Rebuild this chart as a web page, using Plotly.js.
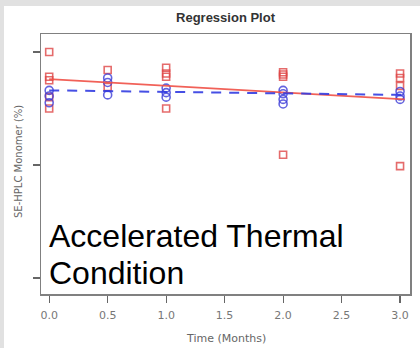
<!DOCTYPE html>
<html>
<head>
<meta charset="utf-8">
<script src="https://cdn.plot.ly/plotly-3.0.1.min.js"></script>
<style>html,body{margin:0;padding:0;background:#e1e1e1;}#chart{width:420px;height:348px;}</style>
</head>
<body>
<div id="chart"></div>
<script>
// Time points (months) and monomer values
const redX = [0,0,0,0,0, 0.5,0.5, 1,1,1,1, 2,2,2,2, 3,3,3,3];
const redY = [99.00,98.78,98.75,98.60,98.50, 98.84,98.69, 98.86,98.81,98.78,98.50, 98.82,98.80,98.78,98.09, 98.81,98.77,98.70,97.99];
const blueX = [0,0,0, 0.5,0.5,0.5, 1,1,1, 2,2,2,2, 3,3,3];
const blueY = [98.66,98.61,98.55, 98.77,98.73,98.62, 98.68,98.64,98.60, 98.66,98.63,98.58,98.54, 98.65,98.61,98.58];
// Regression line endpoints
const fitX = [0, 3.04];
const redFit = [98.76, 98.58];
const blueFit = [98.66, 98.62];
const xTicks = [0, 0.5, 1, 1.5, 2, 2.5, 3];
const xTickText = ['0.0','0.5','1.0','1.5','2.0','2.5','3.0'];
const yTicks = [97, 98, 99];

const traces = [
  {x: redX, y: redY, mode: 'markers', type: 'scatter',
   marker: {symbol: 'square-open', size: 7, color: 'rgba(222,70,70,0.8)', line: {width: 1.6}}},
  {x: blueX, y: blueY, mode: 'markers', type: 'scatter',
   marker: {symbol: 'circle-open', size: 8, color: 'rgba(60,60,215,0.8)', line: {width: 1.6}}},
  {x: fitX, y: redFit, mode: 'lines', type: 'scatter',
   line: {color: 'rgba(240,80,70,0.9)', width: 1.8}},
  {x: fitX, y: blueFit, mode: 'lines', type: 'scatter',
   line: {color: 'rgba(50,60,225,0.9)', width: 2, dash: '10px,8px'}}
];

const small = 'DejaVu Sans, Arial, sans-serif';
const layout = {
  width: 420, height: 348,
  margin: {l: 41, r: 10, t: 34, b: 54},
  paper_bgcolor: '#e1e1e1',
  plot_bgcolor: '#ffffff',
  showlegend: false,
  font: {family: 'Liberation Sans, Arial, sans-serif'},
  title: {text: '<b>Regression Plot</b>', font: {size: 13, color: '#333'},
          x: 0.5, xref: 'paper', y: 1 - 17/348, yref: 'container', yanchor: 'middle'},
  xaxis: {range: [-0.07, 3.085], tickvals: xTicks, ticktext: xTickText,
          showgrid: false, zeroline: false, showline: true, mirror: true,
          linecolor: '#808080', linewidth: 1.5, ticks: 'outside', ticklen: 7,
          tickcolor: '#666', tickwidth: 1.2, ticklabelstandoff: 3,
          tickfont: {size: 11, color: '#777', family: small}},
  yaxis: {range: [96.858, 99.159], tickvals: yTicks, showticklabels: false,
          showgrid: false, zeroline: false, showline: true, mirror: true,
          linecolor: '#808080', linewidth: 1.5, ticks: 'outside', ticklen: 7,
          tickcolor: '#666', tickwidth: 1.2},
  shapes: [
    {type: 'rect', xref: 'paper', yref: 'paper', x0: (4-41)/369, x1: 1.1, y0: -0.3, y1: (294-6)/260,
     fillcolor: '#ffffff', line: {width: 0}, layer: 'below'}
  ],
  annotations: [
    {text: 'SE-HPLC Monomer (%)', xref: 'paper', yref: 'paper', x: (18-41)/369, y: (294-162)/260,
     textangle: -90, showarrow: false, font: {size: 10, color: '#666', family: small}, xanchor: 'center', yanchor: 'middle'},
    {text: 'Time (Months)', xref: 'paper', yref: 'paper', x: 0.5, y: (294-338)/260,
     showarrow: false, font: {size: 11, color: '#666', family: small}, xanchor: 'center', yanchor: 'middle'},
    {text: 'Accelerated Thermal', xref: 'paper', yref: 'paper', x: (47-41)/369, y: (294-236)/260,
     showarrow: false, align: 'left', font: {size: 32, color: '#000'}, xanchor: 'left', yanchor: 'middle'},
    {text: 'Condition', xref: 'paper', yref: 'paper', x: (47-41)/369, y: (294-273)/260,
     showarrow: false, align: 'left', font: {size: 32, color: '#000'}, xanchor: 'left', yanchor: 'middle'}
  ]
};
Plotly.newPlot('chart', traces, layout, {staticPlot: true, displayModeBar: false});
</script>
</body>
</html>
